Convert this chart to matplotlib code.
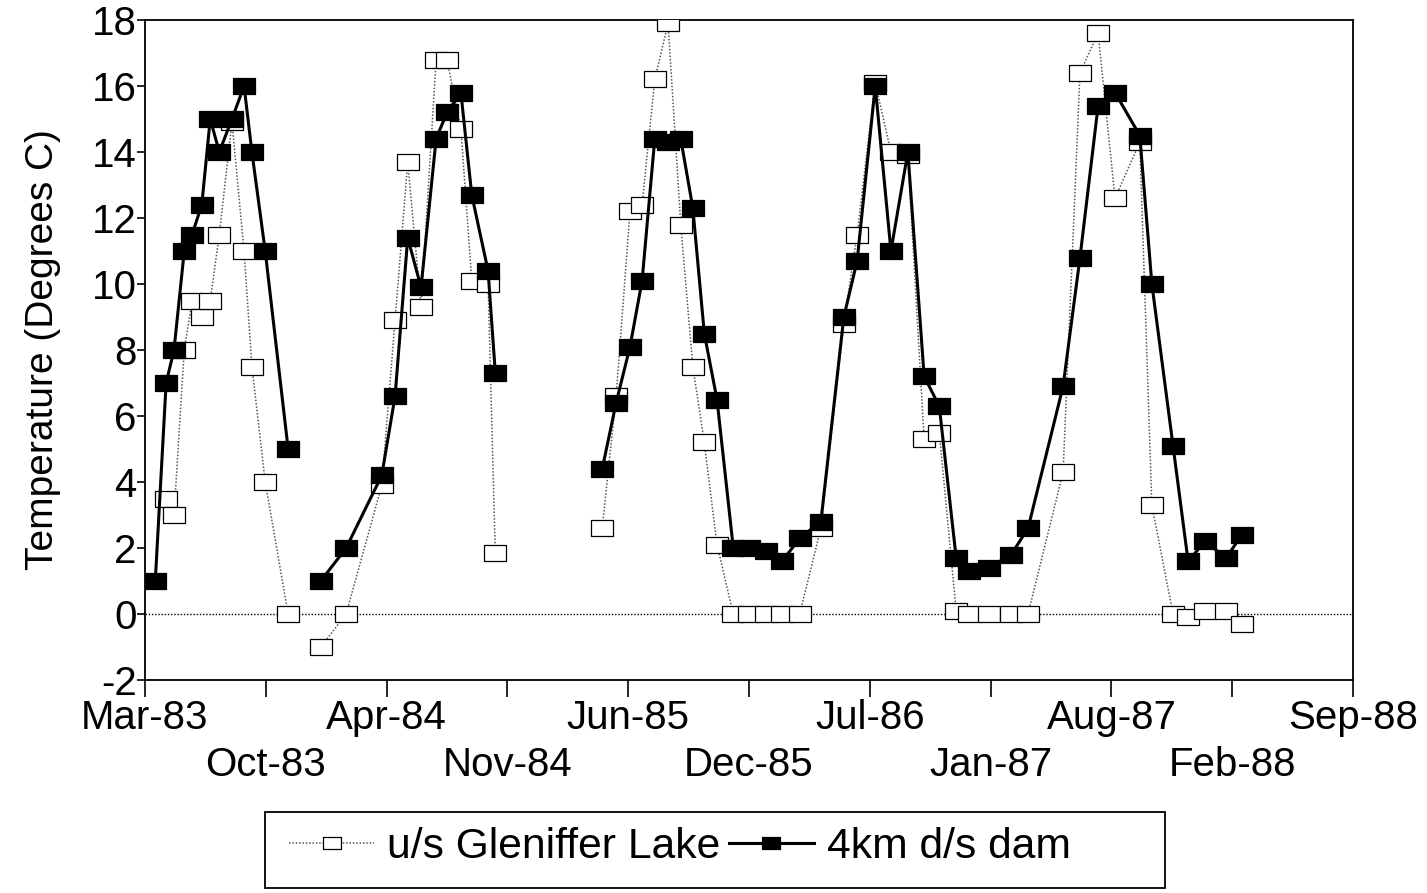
import numpy as np
import pandas as pd
import matplotlib
matplotlib.use("Agg")
import matplotlib.pyplot as plt
from matplotlib.lines import Line2D
from matplotlib.patches import Rectangle

plt.rcParams['font.family'] = ['Liberation Sans', 'DejaVu Sans']
plt.rcParams['axes.unicode_minus'] = False

# Water temperature (deg C), u/s Gleniffer Lake vs 4km d/s of the dam.
# Each sampling run is kept separate so the lines break between runs.
dates_1983 = ['1983-04-11', '1983-04-29', '1983-05-12', '1983-05-29', '1983-06-11',
              '1983-06-27', '1983-07-11', '1983-07-26', '1983-08-16', '1983-09-05',
              '1983-09-18', '1983-10-10', '1983-11-17']
lake_1983 = [np.nan, 3.5, 3.0, 8.0, 9.5, 9.0, 9.5, 11.5, 14.9, 11.0, 7.5, 4.0, 0.0]
dam_1983 = [1.0, 7.0, 8.0, 11.0, 11.5, 12.4, 15.0, 14.0, 15.0, 16.0, 14.0, 11.0, 5.0]

dates_1984 = ['1984-01-10', '1984-02-21', '1984-04-20', '1984-05-12', '1984-06-02',
              '1984-06-24', '1984-07-19', '1984-08-06', '1984-08-29', '1984-09-16',
              '1984-10-13', '1984-10-25']
lake_1984 = [-1.0, 0.0, 3.9, 8.9, 13.7, 9.3, 16.8, 16.8, 14.7, 10.1, 10.0, 1.85]
dam_1984 = [1.0, 2.0, 4.2, 6.6, 11.4, 9.9, 14.4, 15.2, 15.8, 12.7, 10.4, 7.3]

dates_1985 = ['1985-04-20', '1985-05-13', '1985-06-05', '1985-06-25', '1985-07-16',
              '1985-08-07', '1985-08-28', '1985-09-17', '1985-10-06', '1985-10-27',
              '1985-11-23', '1985-12-19', '1986-01-16', '1986-02-12', '1986-03-13',
              '1986-04-17', '1986-05-25', '1986-06-16', '1986-07-16', '1986-08-11',
              '1986-09-08', '1986-10-05', '1986-10-30', '1986-11-27', '1986-12-18',
              '1987-01-20', '1987-02-26', '1987-03-26', '1987-05-23', '1987-06-20',
              '1987-07-20', '1987-08-17', '1987-09-27', '1987-10-17', '1987-11-21',
              '1987-12-16', '1988-01-13', '1988-02-17', '1988-03-14']
lake_1985 = [2.6, 6.6, 12.2, 12.4, 16.2, 17.9, 11.8, 7.5, 5.2, 2.1,
             0.0, 0.0, 0.0, 0.0, 0.0, 2.6, 8.8, 11.5, 16.1, 14.0,
             13.9, 5.3, 5.5, 0.1, 0.0, 0.0, 0.0, 0.0, 4.3, 16.4,
             17.6, 12.6, 14.3, 3.3, 0.0, -0.1, 0.1, 0.1, -0.3]
dam_1985 = [4.4, 6.4, 8.1, 10.1, 14.4, 14.3, 14.4, 12.3, 8.5, 6.5,
            2.0, 2.0, 1.9, 1.6, 2.3, 2.8, 9.0, 10.7, 16.0, 11.0,
            14.0, 7.2, 6.3, 1.7, 1.3, 1.4, 1.8, 2.6, 6.9, 10.8,
            15.4, 15.8, 14.5, 10.0, 5.1, 1.6, 2.2, 1.7, 2.4]

runs = [(dates_1983, lake_1983, dam_1983),
        (dates_1984, lake_1984, dam_1984),
        (dates_1985, lake_1985, dam_1985)]

axis_start = '1983-03-25'
tick_step_days = 200
tick_labels = ['Mar-83', 'Oct-83', 'Apr-84', 'Nov-84', 'Jun-85', 'Dec-85',
               'Jul-86', 'Jan-87', 'Aug-87', 'Feb-88', 'Sep-88']

# flat rectangular marker like the spreadsheet export
box = [(-1, -0.72), (1, -0.72), (1, 0.72), (-1, 0.72), (-1, -0.72)]
lake_style = dict(color='#555555', lw=1.1, ls=(0, (1, 1.2)), marker=box, ms=16,
                  mfc='white', mec='black', mew=0.9)
dam_style = dict(color='black', lw=2.2, ls='-', marker=box, ms=16,
                 mfc='black', mec='black', mew=0.9)

fig = plt.figure(figsize=(14.27, 8.93), dpi=100)
ax = fig.add_axes([145 / 1427, 1 - 680 / 893, 1208 / 1427, 660 / 893])

for dates, lake, dam in runs:
    d = pd.to_datetime(dates)
    ax.plot(d, lake, zorder=3, **lake_style)
for dates, lake, dam in runs:
    d = pd.to_datetime(dates)
    ax.plot(d, dam, zorder=4, **dam_style)

ax.axhline(0, color='black', lw=1.0, ls=(0, (1, 1.3)), zorder=2)

start = pd.Timestamp(axis_start)
ticks = [start + pd.Timedelta(days=tick_step_days * i) for i in range(len(tick_labels))]
ax.set_xlim(ticks[0], ticks[-1])
ax.set_xticks(ticks)
# every other label goes on a second row
ax.set_xticklabels([lab if i % 2 == 0 else '\n' + lab for i, lab in enumerate(tick_labels)],
                   fontsize=29, linespacing=1.3)
ax.tick_params(axis='x', direction='out', length=12, width=1.2, pad=2)

ax.set_ylim(-2, 18)
ax.set_yticks(np.arange(-2, 19, 2))
ax.tick_params(axis='y', direction='out', length=6, width=1.2, labelsize=29, pad=0)
ax.set_ylabel('Temperature (Degrees C)', fontsize=28, labelpad=22)

for s in ax.spines.values():
    s.set_linewidth(1.3)

handles = [Line2D([], [], **lake_style), Line2D([], [], **dam_style)]
leg = fig.legend(handles, ['u/s Gleniffer Lake', '4km d/s dam'], loc='center left',
                 bbox_to_anchor=(289 / 1427, 1 - 847 / 893), ncol=2, fontsize=30.7,
                 frameon=False, handlelength=2.0, handletextpad=0.3,
                 columnspacing=0.2, borderpad=0.0, borderaxespad=0.0, markerscale=0.8)
fig.patches.append(Rectangle((265 / 1427, 1 - 888 / 893), 900 / 1427, 76 / 893,
                             transform=fig.transFigure, fill=False,
                             edgecolor='black', linewidth=1.3))

fig.savefig('out.png', dpi=100)
